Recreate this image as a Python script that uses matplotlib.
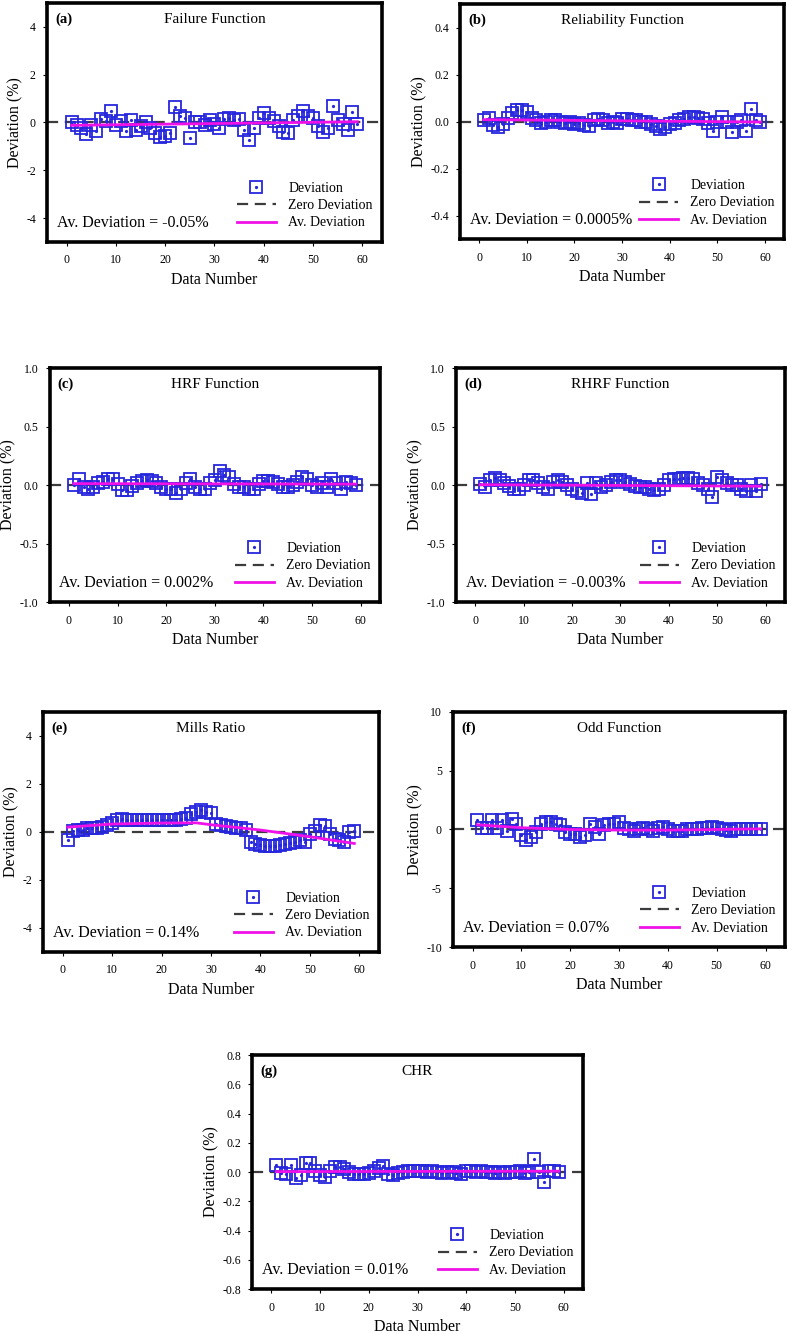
import numpy as np
import matplotlib
matplotlib.use("Agg")
import matplotlib.pyplot as plt

plt.rcParams['font.family'] = ['Liberation Serif', 'DejaVu Serif']
plt.rcParams['axes.unicode_minus'] = False

data_number = np.arange(1, 60)

# deviation (%), data number 1..59
dev_failure = [0, -0.1, -0.25, -0.5, -0.1, -0.35, 0.15, 0.05, 0.5, -0.1,
               0.05, -0.35, 0.1, -0.3, -0.15, 0, -0.25, -0.45, -0.6, -0.55,
               -0.45, 0.65, 0.25, 0.2, -0.65, 0, 0, -0.1, 0.1, -0.05,
               -0.25, 0.15, 0.2, 0.1, 0.15, -0.3, -0.75, -0.25, 0.2, 0.4,
               0.2, 0.05, -0.15, -0.4, -0.45, 0.1, 0.25, 0.5, 0.25, 0.2,
               -0.15, -0.4, -0.25, 0.7, 0.1, -0.05, -0.3, 0.45, -0.05]
dev_reliability = [0.005, 0.015, -0.015, -0.025, -0.01, 0.015, 0.035, 0.05, 0.05, 0.04,
                   0.015, 0.005, -0.005, 0, 0.005, 0.005, 0.0, -0.005, 0.0, -0.01,
                   -0.005, -0.015, -0.02, 0.005, 0.01, 0.005, -0.005, 0, -0.005, 0.01,
                   0.01, 0.005, 0.005, 0, 0, -0.01, -0.02, -0.03, -0.025, -0.01,
                   -0.005, 0.005, 0.01, 0.02, 0.02, 0.015, 0.01, -0.005, -0.04, 0.0,
                   0.02, 0.0, -0.045, 0, 0.005, -0.04, 0.055, 0.005, 0.0]
dev_hrf = [0.0, 0.055, -0.015, -0.03, -0.015, 0.015, 0.03, 0.05, 0.05, 0.005,
           -0.04, -0.04, -0.01, 0.02, 0.035, 0.04, 0.035, 0.015, -0.02, -0.03,
           -0.03, -0.065, -0.03, 0.015, 0.055, -0.015, -0.035, -0.03, 0.015, 0.04,
           0.12, 0.09, 0.07, 0.005, -0.015, -0.02, -0.035, -0.03, 0.005, 0.035,
           0.035, 0.03, 0.005, -0.02, -0.015, 0.0, 0.03, 0.07, 0.05, 0.0,
           -0.02, 0.015, -0.015, 0.055, 0.02, -0.03, 0.03, 0.015, 0.0]
dev_rhrf = [0.005, -0.02, 0.04, 0.06, 0.045, 0.02, -0.01, -0.03, -0.035, 0.0,
            0.04, 0.045, 0.02, -0.02, -0.03, 0.03, 0.04, 0.03, 0.0, -0.03,
            -0.05, -0.07, 0.02, -0.08, 0.02, -0.02, 0.0, 0.03, 0.04, 0.045,
            0.03, 0.01, -0.01, -0.02, -0.02, -0.03, -0.04, -0.03, 0.0, 0.04,
            0.05, 0.055, 0.06, 0.06, 0.05, 0.02, 0.0, -0.03, -0.10, 0.07,
            0.04, 0.02, 0.0, 0.0, -0.03, -0.05, 0.0, -0.05, 0.01]
dev_mills = [-0.35, 0.05, 0.1, 0.1, 0.15, 0.18, 0.18, 0.22, 0.28, 0.38,
             0.5, 0.55, 0.5, 0.5, 0.5, 0.48, 0.5, 0.5, 0.48, 0.5,
             0.5, 0.5, 0.5, 0.52, 0.6, 0.75, 0.85, 0.9, 0.85, 0.8,
             0.35, 0.3, 0.25, 0.2, 0.15, 0.15, 0.1, -0.4, -0.5, -0.55,
             -0.6, -0.6, -0.6, -0.55, -0.5, -0.45, -0.4, -0.35, -0.4, -0.1,
             0.05, 0.3, 0.25, -0.1, -0.3, -0.35, -0.4, 0.0, 0.05]
dev_odd = [0.8, 0.1, 0.1, 0.8, 0.1, 0.8, -0.1, 0.85, 0.5, -0.5,
           -0.9, -0.6, -0.2, 0.5, 0.65, 0.65, 0.5, 0.35, -0.2, -0.35,
           -0.4, -0.6, -0.5, 0.5, 0.2, -0.35, 0.35, 0.5, 0.5, 0.65,
           0.1, 0.0, -0.1, 0.05, 0.1, 0.0, -0.1, 0.1, 0.2, 0.05,
           -0.1, -0.15, -0.1, 0.0, 0.05, 0.0, 0.15, 0.1, 0.2, 0.1,
           0.0, -0.05, -0.1, 0.05, 0.0, 0.05, 0.0, 0.05, 0.0]
dev_chr = [0.045, -0.005, -0.01, 0.045, -0.04, -0.02, 0.06, 0.06, 0.01, -0.02,
           -0.035, 0.01, 0.035, 0.035, 0.02, 0.0, -0.01, -0.01, -0.01, -0.005,
           0.01, 0.025, 0.04, -0.01, -0.02, -0.005, 0.0, 0.005, 0.01, 0.01,
           0.005, 0.0, 0.005, 0.0, -0.005, 0.0, 0.0, -0.005, -0.01, 0.005,
           0.005, 0.0, 0.005, 0.0, 0.0, -0.005, 0.0, -0.005, 0.0, 0.0,
           0.005, -0.005, 0.0, 0.09, 0.0, -0.07, 0.005, 0.005, 0.0]

# average deviation (magenta) line, read at a few data numbers
avg_x_straight = [1, 59]
avg_failure = [-0.12, 0.03]
avg_reliability = [0.008, -0.002]
avg_hrf = [0.012, 0.008]
avg_rhrf = [0.003, -0.01]
avg_chr = [0.003, 0.006]
avg_x_mills = [1, 10, 20, 27, 30, 40, 50, 59]
avg_mills = [0.2, 0.33, 0.37, 0.38, 0.3, 0.08, -0.2, -0.48]
avg_x_odd = [1, 10, 20, 30, 40, 50, 59]
avg_odd = [0.4, 0.15, 0.0, -0.05, -0.05, 0.0, 0.05]

panel_letters = ['(a)', '(b)', '(c)', '(d)', '(e)', '(f)', '(g)']
panel_titles = ['Failure Function', 'Reliability Function', 'HRF Function',
                'RHRF Function', 'Mills Ratio', 'Odd Function', 'CHR']
av_labels = ['Av. Deviation = -0.05%', 'Av. Deviation = 0.0005%',
             'Av. Deviation = 0.002%', 'Av. Deviation = -0.003%',
             'Av. Deviation = 0.14%', 'Av. Deviation = 0.07%',
             'Av. Deviation = 0.01%']
y_ticks = [[4, 2, 0, -2, -4],
           [0.4, 0.2, 0.0, -0.2, -0.4],
           [1.0, 0.5, 0.0, -0.5, -1.0],
           [1.0, 0.5, 0.0, -0.5, -1.0],
           [4, 2, 0, -2, -4],
           [10, 5, 0, -5, -10],
           [0.8, 0.6, 0.4, 0.2, 0.0, -0.2, -0.4, -0.6, -0.8]]
y_tick_fmt = ['%d', '%.1f', '%.1f', '%.1f', '%d', '%d', '%.1f']
y_limits = [5, 0.5, 1.0, 1.0, 5, 10, 0.8]
x_ticks = [0, 10, 20, 30, 40, 50, 60]

BLUE = '#2626dc'
MAGENTA = '#f010e8'


def draw_panel(ax, dev, avg_x, avg_y, idx):
    """
    draw one deviation panel
    :param ax: matplotlib axes
    :param dev: list of deviations for data number 1..59
    :param avg_x: data numbers of the average-deviation line
    :param avg_y: values of the average-deviation line
    :param idx: panel index for labels and scales
    """
    zero = ax.axhline(0, color='#3c3c3c', lw=1.6, ls=(0, (5, 3)), zorder=1,
                      label='Zero Deviation')
    sq, = ax.plot(data_number, dev, ls='none', marker='s', ms=8,
                  mfc='none', mec=BLUE, mew=1.3, zorder=3)
    dot, = ax.plot(data_number, dev, ls='none', marker='o', ms=1.3,
                   color=BLUE, zorder=3)
    av, = ax.plot(avg_x, avg_y, color=MAGENTA, lw=2.0, zorder=4)

    lim = y_limits[idx]
    ax.set_ylim(-lim, lim)
    ax.set_xlim(-4, 64)
    ax.set_yticks(y_ticks[idx])
    ax.set_yticklabels([y_tick_fmt[idx] % t for t in y_ticks[idx]])
    ax.set_xticks(x_ticks)
    ax.tick_params(axis='both', labelsize=8.5, length=3, width=0.8,
                   direction='out')
    ax.tick_params(axis='y', pad=5)
    ax.tick_params(axis='x', pad=6)
    for s in ax.spines.values():
        s.set_linewidth(2.6)

    ax.set_xlabel('Data Number', fontsize=11.5, labelpad=4)
    ax.set_ylabel('Deviation (%)', fontsize=11.5, labelpad=2)

    ax.text(0.025, 0.93, panel_letters[idx], transform=ax.transAxes,
            fontsize=10.5, fontweight='bold', va='center', ha='left')
    ax.text(0.5, 0.93, panel_titles[idx], transform=ax.transAxes,
            fontsize=11, va='center', ha='center')
    ax.text(0.03, 0.08, av_labels[idx], transform=ax.transAxes,
            fontsize=11.5, va='center', ha='left')

    ax.legend([(sq, dot), zero, av], ['Deviation', 'Zero Deviation', 'Av. Deviation'],
              loc='lower right', bbox_to_anchor=(1.01, 0.0), frameon=False,
              fontsize=10, handlelength=2.8, labelspacing=0.3,
              handletextpad=0.9, numpoints=1)


panel_devs = [dev_failure, dev_reliability, dev_hrf, dev_rhrf,
              dev_mills, dev_odd, dev_chr]
panel_avg_x = [avg_x_straight, avg_x_straight, avg_x_straight, avg_x_straight,
               avg_x_mills, avg_x_odd, avg_x_straight]
panel_avg_y = [avg_failure, avg_reliability, avg_hrf, avg_rhrf,
               avg_mills, avg_odd, avg_chr]

# axes boxes as figure fractions
boxes = [[0.0597, 0.8186, 0.4257, 0.1792],
         [0.5845, 0.8208, 0.4120, 0.1762],
         [0.0629, 0.5487, 0.4200, 0.1754],
         [0.5794, 0.5487, 0.4180, 0.1754],
         [0.0546, 0.2864, 0.4270, 0.1799],
         [0.5756, 0.2901, 0.4219, 0.1762],
         [0.3202, 0.0337, 0.4206, 0.1754]]

fig = plt.figure(figsize=(7.87, 13.34), dpi=100)
for i in range(7):
    ax = fig.add_axes(boxes[i])
    draw_panel(ax, panel_devs[i], panel_avg_x[i], panel_avg_y[i], i)

fig.savefig('out.png', dpi=100)
